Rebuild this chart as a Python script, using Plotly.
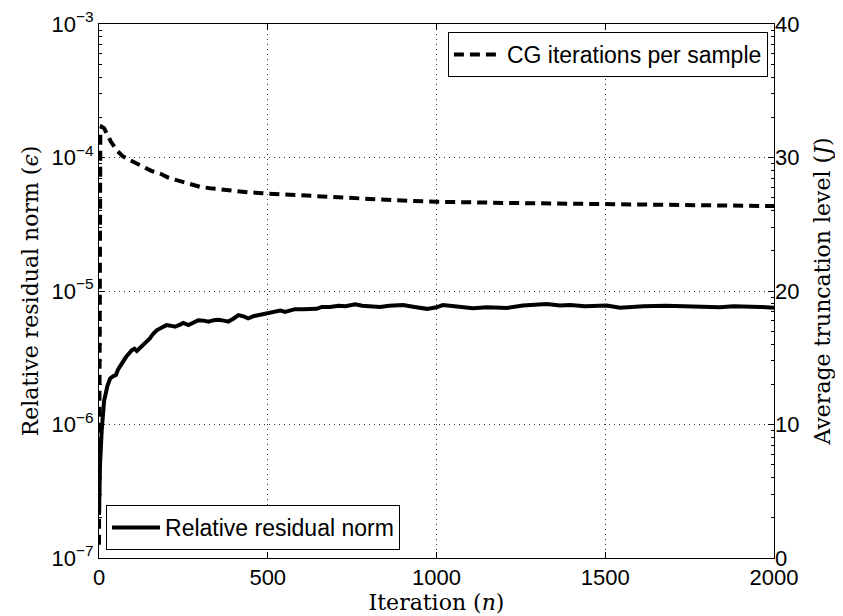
import plotly.graph_objects as go

# Relative residual norm (left, log axis)
res_iter = [0, 3, 8, 15, 25, 33, 42, 50, 57, 67, 80, 97, 105, 112, 125, 136, 150, 160, 171, 185,
            200, 212, 225, 240, 250, 265, 280, 294, 310, 324, 340, 353, 370, 383, 398, 413, 428,
            442, 460, 482, 500, 522, 537, 551, 566, 581, 605, 630, 645, 660, 684, 710, 730, 759,
            780, 800, 833, 860, 901, 935, 972, 1000, 1019, 1060, 1108, 1150, 1209, 1256, 1290,
            1327, 1366, 1396, 1440, 1504, 1544, 1580, 1613, 1680, 1761, 1800, 1840, 1880, 1919,
            1960, 2000]
res_norm = [2.1e-7, 5e-7, 9e-7, 1.5e-6, 1.95e-6, 2.21e-6, 2.3e-6, 2.35e-6, 2.6e-6, 2.85e-6,
            3.2e-6, 3.6e-6, 3.7e-6, 3.55e-6, 3.8e-6, 4.05e-6, 4.4e-6, 4.75e-6, 5.08e-6, 5.3e-6,
            5.55e-6, 5.5e-6, 5.4e-6, 5.6e-6, 5.77e-6, 5.55e-6, 5.85e-6, 6.04e-6, 6.0e-6, 5.9e-6,
            6.05e-6, 6.1e-6, 6.0e-6, 5.9e-6, 6.2e-6, 6.6e-6, 6.45e-6, 6.25e-6, 6.5e-6, 6.67e-6,
            6.8e-6, 6.97e-6, 7.15e-6, 6.97e-6, 7.15e-6, 7.31e-6, 7.3e-6, 7.4e-6, 7.35e-6, 7.6e-6,
            7.6e-6, 7.75e-6, 7.7e-6, 7.95e-6, 7.75e-6, 7.7e-6, 7.6e-6, 7.75e-6, 7.85e-6, 7.6e-6,
            7.35e-6, 7.55e-6, 7.85e-6, 7.65e-6, 7.43e-6, 7.55e-6, 7.46e-6, 7.8e-6, 7.85e-6,
            8.0e-6, 7.8e-6, 7.85e-6, 7.7e-6, 7.8e-6, 7.5e-6, 7.6e-6, 7.7e-6, 7.75e-6, 7.7e-6,
            7.6e-6, 7.55e-6, 7.7e-6, 7.7e-6, 7.6e-6, 7.5e-6]

# CG iterations per sample (right, linear axis)
cg_iter = [0, 4, 8, 15, 23, 35, 52, 70, 92, 110, 131, 155, 181, 205, 230, 255, 280, 300, 329,
           378, 440, 500, 600, 700, 800, 930, 1000, 1200, 1500, 1750, 2000]
cg_count = [1, 32.0, 32.3, 32.2, 31.8, 31.2, 30.55, 30.1, 29.8, 29.55, 29.3, 29.0, 28.8, 28.5,
            28.3, 28.1, 27.9, 27.8, 27.7, 27.55, 27.4, 27.3, 27.15, 27.05, 26.9, 26.75, 26.68,
            26.6, 26.5, 26.42, 26.36]

x_ticks = [0, 500, 1000, 1500, 2000]
left_tickvals = [1e-7, 1e-6, 1e-5, 1e-4, 1e-3]
left_ticktext = ["10<sup>−7</sup>", "10<sup>−6</sup>", "10<sup>−5</sup>", "10<sup>−4</sup>", "10<sup>−3</sup>"]
left_minor = [m * 10 ** e for e in range(-7, -3) for m in range(2, 10)]
right_ticks = [0, 10, 20, 30, 40]

SANS = "Liberation Sans, Arial, sans-serif"
TICKFONT = dict(family=SANS, size=22, color="black")
TITLEFONT = dict(family="DejaVu Serif, serif", size=22, color="black")
LEGFONT = dict(family=SANS, size=23, color="black")
GRID = dict(showgrid=True, gridcolor="#333", griddash="1px,4px", gridwidth=1)

fig = go.Figure()
fig.add_trace(go.Scatter(
    x=cg_iter, y=cg_count, yaxis="y2", mode="lines",
    name="CG iterations per sample",
    line=dict(color="black", width=4, dash="10px,6px"),
    legend="legend",
))
fig.add_trace(go.Scatter(
    x=res_iter, y=res_norm, yaxis="y", mode="lines",
    name="Relative residual norm",
    line=dict(color="black", width=4),
    legend="legend2",
))

fig.update_layout(
    width=835, height=608,
    margin=dict(l=91, r=69, t=16, b=58),
    paper_bgcolor="white", plot_bgcolor="white",
    showlegend=True,
    xaxis=dict(
        range=[0, 2000], tickvals=x_ticks, ticks="inside", ticklen=6, tickcolor="black",
        showline=True, linecolor="black", linewidth=1, mirror="ticks",
        zeroline=False, tickfont=TICKFONT, automargin=False,
        title=dict(text="Iteration (<i>n</i>)", font=TITLEFONT, standoff=0),
        **GRID,
    ),
    yaxis=dict(
        type="log", range=[-7, -3], tickvals=left_tickvals, ticktext=left_ticktext,
        ticks="inside", ticklen=6, tickcolor="black",
        minor=dict(tickvals=left_minor, ticks="inside", ticklen=3, tickcolor="black", showgrid=False),
        showline=True, linecolor="black", linewidth=1, mirror="ticks",
        zeroline=False, tickfont=TICKFONT, automargin=False,
        title=dict(text="Relative residual norm (<i>ϵ</i>)", font=TITLEFONT, standoff=6),
        **GRID,
    ),
    yaxis2=dict(
        overlaying="y", side="right", range=[0, 40], tickvals=right_ticks,
        ticks="inside", ticklen=6, tickcolor="black",
        showline=False, showgrid=False, zeroline=False, tickfont=TICKFONT, automargin=False,
        title=dict(text="Average truncation level (<i>J</i>)", font=TITLEFONT, standoff=16),
    ),
    legend=dict(
        x=0.991, y=0.985, xanchor="right", yanchor="top",
        bordercolor="black", borderwidth=1, bgcolor="white",
        font=LEGFONT, itemwidth=48, tracegroupgap=0,
    ),
    legend2=dict(
        x=0.0104, y=0.015, xanchor="left", yanchor="bottom",
        bordercolor="black", borderwidth=1, bgcolor="white",
        font=LEGFONT, itemwidth=48, tracegroupgap=0,
    ),
)

fig.write_html("out.html")
